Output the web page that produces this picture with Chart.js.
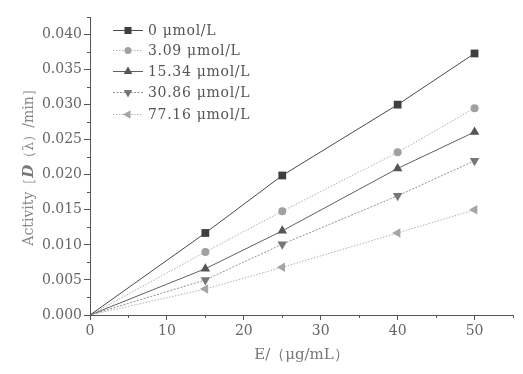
<!DOCTYPE html>
<html>
<head>
<meta charset="utf-8">
<script src="https://cdn.jsdelivr.net/npm/chart.js@4/dist/chart.umd.min.js"></script>
<style>
  html, body { margin: 0; padding: 0; background: #fff; }
  #wrap { width: 523px; height: 374px; }
</style>
</head>
<body>
<div id="wrap"><canvas id="graph" width="523" height="374"></canvas></div>
<script>
// E concentration (µg/mL)
const xValues = [0, 15, 25, 40, 50];

const seriesLabels = ['0 μmol/L', '3.09 μmol/L', '15.34 μmol/L', '30.86 μmol/L', '77.16 μmol/L'];

// activity values
const conc0 = [0, 0.0117, 0.0199, 0.0300, 0.0373];
const conc309 = [0, 0.0090, 0.0148, 0.0232, 0.0295];
const conc1534 = [0, 0.0066, 0.0120, 0.0209, 0.0261];
const conc3086 = [0, 0.0050, 0.0101, 0.0170, 0.0220];
const conc7716 = [0, 0.0037, 0.0068, 0.0117, 0.0150];

const yTicks = [0, 0.005, 0.010, 0.015, 0.020, 0.025, 0.030, 0.035, 0.040];
const xTicks = [0, 10, 20, 30, 40, 50];

const FONT = '"DejaVu Serif", "Liberation Serif", serif';

const styles = [
    { color: '#4a4a4a', mark: '#3f3f3f', dash: [], style: 'rect', rot: 0, r: 5.5 },
    { color: '#b0b0b0', mark: '#a0a0a0', dash: [1.5, 1.5], style: 'circle', rot: 0, r: 4 },
    { color: '#606060', mark: '#555555', dash: [], style: 'triangle', rot: 0, r: 5.5 },
    { color: '#909090', mark: '#777777', dash: [2, 1.5], style: 'triangle', rot: 180, r: 5.5 },
    { color: '#b0b0b0', mark: '#a5a5a5', dash: [1.5, 1.5], style: 'triangle', rot: -90, r: 5.5 }
];

const allSeries = [conc0, conc309, conc1534, conc3086, conc7716];

const datasets = allSeries.map((vals, i) => ({
    label: seriesLabels[i],
    data: vals.map((v, j) => ({ x: xValues[j], y: v })),
    borderColor: styles[i].color,
    borderWidth: 1,
    borderDash: styles[i].dash,
    backgroundColor: styles[i].mark,
    pointBackgroundColor: styles[i].mark,
    pointBorderColor: styles[i].mark,
    pointBorderWidth: 0,
    pointStyle: styles[i].style,
    pointRotation: styles[i].rot,
    pointRadius: ctx => ctx.dataIndex === 0 ? 0 : styles[i].r,
    tension: 0
}));

// minor ticks, legend box and rich y title
const extras = {
    id: 'extras',
    afterDraw(chart) {
        const ctx = chart.ctx;
        const xs = chart.scales.x, ys = chart.scales.y;
        ctx.save();
        ctx.strokeStyle = '#555';
        ctx.lineWidth = 1;
        ctx.setLineDash([]);
        // minor y ticks
        for (let v = 0.0025; v < 0.0426; v += 0.005) {
            const py = Math.round(ys.getPixelForValue(v)) + 0.5;
            ctx.beginPath();
            ctx.moveTo(xs.left - 3, py);
            ctx.lineTo(xs.left, py);
            ctx.stroke();
        }
        // minor x ticks
        for (let v = 5; v <= 55; v += 10) {
            const px = Math.round(xs.getPixelForValue(v)) + 0.5;
            ctx.beginPath();
            ctx.moveTo(px, ys.bottom);
            ctx.lineTo(px, ys.bottom + 3);
            ctx.stroke();
        }

        // legend
        const lx0 = 113, lx1 = 143, tx = 148;
        const rows = [30, 50, 71, 92, 114];
        ctx.font = '14px ' + FONT;
        ctx.letterSpacing = '0.7px';
        ctx.textBaseline = 'middle';
        ctx.textAlign = 'left';
        chart.data.datasets.forEach((ds, i) => {
            const y = rows[i];
            ctx.strokeStyle = styles[i].color;
            ctx.setLineDash(styles[i].dash);
            ctx.beginPath();
            ctx.moveTo(lx0, y + 0.5);
            ctx.lineTo(lx1, y + 0.5);
            ctx.stroke();
            ctx.setLineDash([]);
            ctx.fillStyle = styles[i].mark;
            ctx.strokeStyle = styles[i].mark;
            Chart.helpers.drawPoint(ctx, {
                pointStyle: styles[i].style,
                rotation: styles[i].rot,
                radius: styles[i].r - 0.5,
                borderWidth: 0
            }, (lx0 + lx1) / 2, y + 0.5);
            ctx.fillStyle = '#555';
            ctx.fillText(ds.label, tx, y + 1);
        });
        ctx.letterSpacing = '0px';

        // y axis title: Activity［D（λ）/min］
        const parts = [
            { t: 'Activity［', f: '14px ' + FONT, c: '#888' },
            { t: 'D', f: 'italic bold 15px ' + FONT, c: '#777' },
            { t: '（λ）/min］', f: '14px ' + FONT, c: '#888' }
        ];
        let total = 0;
        parts.forEach(p => { ctx.font = p.f; p.w = ctx.measureText(p.t).width; total += p.w; });
        const cy = (ys.top + ys.bottom) / 2 - 2;
        ctx.translate(29, cy);
        ctx.rotate(-Math.PI / 2);
        let cx = -total / 2;
        ctx.textBaseline = 'middle';
        parts.forEach(p => {
            ctx.font = p.f;
            ctx.fillStyle = p.c;
            ctx.fillText(p.t, cx, 0);
            cx += p.w;
        });
        ctx.restore();
    }
};

const ctx = document.getElementById('graph').getContext('2d');
const myChart = new Chart(ctx, {
    type: 'line',
    data: { datasets: datasets },
    options: {
        responsive: false,
        animation: false,
        devicePixelRatio: 1,
        layout: { padding: { left: 0, top: 17, right: 10, bottom: 0 } },
        plugins: {
            legend: { display: false },
            tooltip: { enabled: false }
        },
        scales: {
            x: {
                type: 'linear',
                min: 0,
                max: 55,
                afterFit: s => { s.height = 59; },
                afterBuildTicks: s => { s.ticks = xTicks.map(v => ({ value: v })); },
                grid: { drawOnChartArea: false, tickLength: 5, color: '#555', tickColor: '#555' },
                border: { color: '#555', width: 1 },
                ticks: {
                    color: '#666',
                    font: { family: FONT, size: 14 },
                    padding: 3,
                    maxRotation: 0,
                    callback: v => String(v)
                },
                title: {
                    display: true,
                    text: 'E/（μg/mL）',
                    color: '#777',
                    font: { family: FONT, size: 15 },
                    padding: { top: 0, bottom: 10 }
                }
            },
            y: {
                type: 'linear',
                min: 0,
                max: 0.0425,
                afterFit: s => { s.width = 90; },
                afterBuildTicks: s => { s.ticks = yTicks.map(v => ({ value: v })); },
                grid: { drawOnChartArea: false, tickLength: 6, color: '#555', tickColor: '#555' },
                border: { color: '#555', width: 1 },
                ticks: {
                    color: '#666',
                    font: { family: FONT, size: 14 },
                    padding: 2,
                    callback: v => v.toFixed(3)
                }
            }
        }
    },
    plugins: [extras]
});
</script>
</body>
</html>
